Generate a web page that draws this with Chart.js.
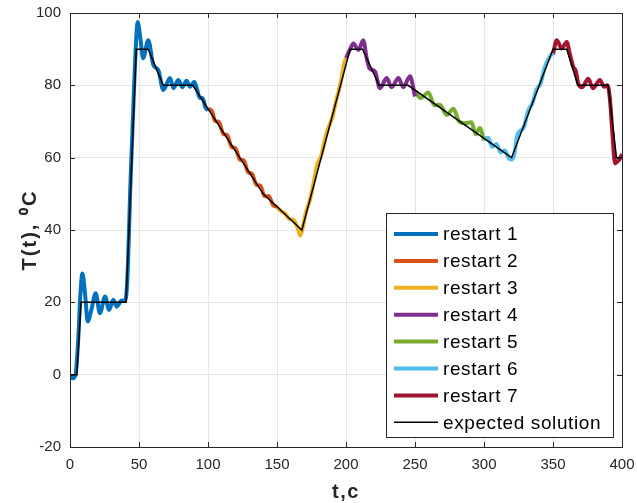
<!DOCTYPE html>
<html>
<head>
<meta charset="utf-8">
<script src="https://cdn.jsdelivr.net/npm/chart.js@4.4.0/dist/chart.umd.min.js"></script>
<style>
html, body { margin: 0; padding: 0; background: #fff; }
</style>
</head>
<body>
<canvas id="tempChart" width="637" height="503"></canvas>
<script>
// time (t,c) and temperature values
const r1T = [0, 2, 4, 6, 7.5, 9, 11, 12.8, 15.5, 18.6, 21.7, 25.4, 28.3, 31.4, 33.8, 37.4, 40, 41.5, 44, 46.5, 48, 49, 51, 53, 56.7, 60.4, 64, 67.6, 72.5, 74.9, 78.5, 81.4, 84.5, 87, 90, 92, 94, 96, 98, 100];
const r1Y = [-0.5, -1, 0, 10, 22, 28, 22, 14.7, 18, 22.5, 17, 21.6, 17.9, 20.7, 18.8, 20.5, 20.5, 26, 55, 80, 93, 97.5, 93, 87.5, 92.5, 85.6, 84.2, 78.7, 82, 79.2, 81.5, 79.5, 81.3, 79.6, 81, 79, 76.5, 76.5, 74, 73];

const r2T = [100, 103, 105, 108, 111, 114, 117, 120, 123, 126, 129, 132, 135, 138, 141, 144, 147, 150];
const r2Y = [73.5, 72.8, 70.2, 69.8, 66.6, 66.2, 63, 62.6, 59.5, 59.2, 56, 55.5, 52.5, 52.2, 49.3, 49.4, 47, 46.4];

const r3T = [150, 153, 156, 159, 162, 165, 167, 168.5, 171, 174, 177, 179, 182, 185, 187, 190, 193, 196, 199, 200.5];
const r3Y = [46.4, 45.2, 44.5, 43, 42.8, 40.5, 38.5, 40.5, 45, 48.5, 54, 58, 60.5, 65.5, 68, 71, 76, 80.5, 86.5, 87.5];

const r4T = [200, 203, 205.3, 209, 212.5, 215, 217, 221, 224.6, 229.5, 233, 238, 241.5, 246.4, 250];
const r4Y = [87.5, 90, 91.6, 89.8, 92.5, 87.5, 84.7, 83.8, 79.2, 82, 79.5, 82, 79.5, 82.5, 76.9];

const r5T = [250, 254, 259.7, 264, 268, 273, 277.8, 282, 286, 291, 294, 297, 300];
const r5Y = [78.5, 76.5, 78, 74.5, 74.6, 71.8, 73.5, 70, 69.5, 69.8, 66.5, 68.2, 64.8];

const r6T = [300, 303, 306, 309, 312, 315, 318, 320, 322, 324, 326.5, 329, 332, 335, 338, 341, 344, 347, 350];
const r6Y = [65, 65.5, 63, 63.8, 61.5, 62, 59.8, 59.5, 61, 66, 67.5, 68.5, 73, 75, 78.8, 80.5, 85, 87.5, 89];

const r7T = [350, 352.7, 356.3, 360, 362, 364.7, 366.5, 368.3, 371, 375.6, 379, 384, 387, 389.5, 391.3, 393, 395, 396.8, 398.6, 400];
const r7Y = [88.5, 92.5, 90.2, 92, 89, 85.1, 84, 80.5, 79.5, 81.8, 79.2, 81.5, 79.6, 80, 76, 67, 58.4, 59, 59.8, 61];

const expT = [0, 5, 8, 40.6, 48, 56.7, 67.6, 89, 140, 168, 203, 212, 224, 245, 320, 350, 360, 368, 390, 396, 400];
const expY = [0, 0, 20, 20, 90, 90, 80, 80, 50, 40, 90, 90, 80, 80, 60, 90, 90, 80, 80, 60, 60];

const seriesNames = ['restart 1', 'restart 2', 'restart 3', 'restart 4', 'restart 5', 'restart 6', 'restart 7', 'expected solution'];
const xTicks = [0, 50, 100, 150, 200, 250, 300, 350, 400];
const yTicks = [-20, 0, 20, 40, 60, 80, 100];

const colors = ['#0072BD', '#D95319', '#EDB120', '#7E2F8E', '#77AC30', '#4DBEEE', '#A2142F'];
const fontFamily = '"Liberation Sans", Arial, sans-serif';

function pts(ts, ys) {
    return ts.map((t, i) => ({x: t, y: ys[i]}));
}

const restarts = [[r1T, r1Y], [r2T, r2Y], [r3T, r3Y], [r4T, r4Y], [r5T, r5Y], [r6T, r6Y], [r7T, r7Y]];
const datasets = restarts.map((r, i) => ({
    label: seriesNames[i],
    data: pts(r[0], r[1]),
    borderColor: colors[i],
    borderWidth: 4,
    pointRadius: 0,
    cubicInterpolationMode: 'monotone',
    order: 1
}));
datasets.push({
    label: seriesNames[7],
    data: pts(expT, expY),
    borderColor: '#000000',
    borderWidth: 1.5,
    pointRadius: 0,
    tension: 0,
    order: 0
});

// matlab style box with inward ticks + axis titles
const boxTicks = {
    id: 'boxTicks',
    afterDatasetsDraw(chart) {
        const {ctx, chartArea: a, scales: {x, y}} = chart;
        ctx.save();
        ctx.strokeStyle = '#262626';
        ctx.lineWidth = 1;
        ctx.beginPath();
        xTicks.forEach(v => {
            const px = Math.round(x.getPixelForValue(v)) + 0.5;
            ctx.moveTo(px, a.bottom); ctx.lineTo(px, a.bottom - 5);
            ctx.moveTo(px, a.top); ctx.lineTo(px, a.top + 5);
        });
        yTicks.forEach(v => {
            const py = Math.round(y.getPixelForValue(v)) + 0.5;
            ctx.moveTo(a.left, py); ctx.lineTo(a.left + 5, py);
            ctx.moveTo(a.right, py); ctx.lineTo(a.right - 5, py);
        });
        ctx.stroke();
        ctx.strokeRect(Math.round(a.left) + 0.5, Math.round(a.top) + 0.5, Math.round(a.right - a.left), Math.round(a.bottom - a.top));

        ctx.fillStyle = '#262626';
        ctx.font = 'bold 20px ' + fontFamily;
        ctx.letterSpacing = '1.5px';
        ctx.textAlign = 'center';
        ctx.textBaseline = 'middle';
        ctx.fillText('t,c', (a.left + a.right) / 2, 492);
        ctx.translate(30, (a.top + a.bottom) / 2);
        ctx.rotate(-Math.PI / 2);
        ctx.letterSpacing = '2px';
        ctx.fillText('T(t), \u2070C', 0, 0);
        ctx.restore();
    }
};

// legend box inside the plot, bottom right
const boxLegend = {
    id: 'boxLegend',
    afterDraw(chart) {
        const {ctx, chartArea: a} = chart;
        const w = 227, h = 224;
        const left = a.right - 9 - w, top = a.bottom - 10 - h;
        ctx.save();
        ctx.fillStyle = '#ffffff';
        ctx.fillRect(left, top, w, h);
        ctx.strokeStyle = '#262626';
        ctx.lineWidth = 1;
        ctx.strokeRect(left + 0.5, top + 0.5, w, h);
        ctx.font = '19px ' + fontFamily;
        ctx.letterSpacing = '0.6px';
        ctx.textBaseline = 'middle';
        ctx.fillStyle = '#000000';
        chart.data.datasets.forEach((ds, i) => {
            const cy = top + 21 + i * 26.9;
            ctx.strokeStyle = ds.borderColor;
            ctx.lineWidth = ds.borderWidth;
            ctx.beginPath();
            ctx.moveTo(left + 8, cy);
            ctx.lineTo(left + 52, cy);
            ctx.stroke();
            ctx.fillText(ds.label, left + 57, cy + 1);
        });
        ctx.restore();
    }
};

const ctx = document.getElementById('tempChart');
const tempChart = new Chart(ctx, {
    type: 'line',
    data: { datasets: datasets },
    options: {
        responsive: false,
        animation: false,
        layout: { padding: { top: 13, right: 15, left: 0, bottom: 0 } },
        plugins: { legend: { display: false }, tooltip: { enabled: false } },
        scales: {
            x: {
                type: 'linear',
                min: 0,
                max: 400,
                afterFit: s => { s.height = 56; s.paddingLeft = 0; s.paddingRight = 0; },
                afterBuildTicks: s => { s.ticks = xTicks.map(v => ({value: v})); },
                grid: { color: '#e6e6e6', drawTicks: false },
                border: { display: false },
                ticks: {
                    padding: 9,
                    color: '#262626',
                    font: { family: fontFamily, size: 15 },
                    maxRotation: 0
                }
            },
            y: {
                min: -20,
                max: 100,
                afterFit: s => { s.width = 70; s.paddingTop = 0; s.paddingBottom = 0; },
                afterBuildTicks: s => { s.ticks = yTicks.map(v => ({value: v})); },
                grid: { color: '#e6e6e6', drawTicks: false },
                border: { display: false },
                ticks: {
                    padding: 9,
                    color: '#262626',
                    font: { family: fontFamily, size: 15 }
                }
            }
        }
    },
    plugins: [boxTicks, boxLegend]
});
</script>
</body>
</html>
